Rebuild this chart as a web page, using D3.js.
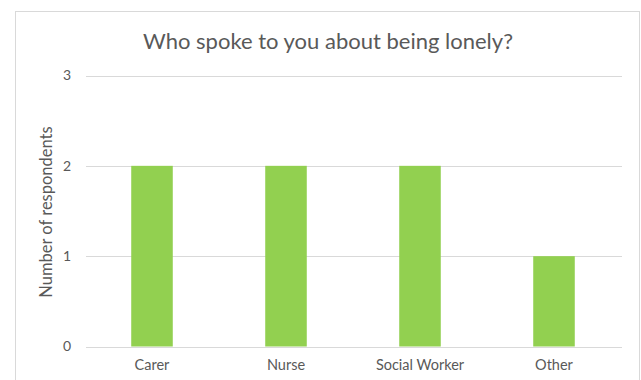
<!DOCTYPE html>
<html><head><meta charset="utf-8">
<script src="https://cdn.jsdelivr.net/npm/d3@7"></script>
<style>body{margin:0;background:#fff}svg{display:block}</style>
</head><body><svg id="c" width="641" height="380"></svg>
<script>
const categories = ["Carer", "Nurse", "Social Worker", "Other"];
const values = [2, 2, 2, 1];
const yTicks = [0, 1, 2, 3];
const titleText = "Who spoke to you about being lonely?";
const yTitle = "Number of respondents";

(function () {
const svg = d3.select("#c");
const font = "Lato, 'Open Sans', sans-serif";
const gray = "#595959";

svg.append("rect").attr("x", 15.5).attr("y", 11.5).attr("width", 624).attr("height", 380)
  .attr("fill", "#fff").attr("stroke", "#d9d9d9");

const mLeft = 86, mRight = 622, mTop = 75.5, mBottom = 346.5;
const x = d3.scaleBand().domain(categories).range([mLeft, mRight]).padding(0);
const y = d3.scaleLinear().domain([0, 3]).range([mBottom, mTop]);

svg.append("g").selectAll("line").data(yTicks).join("line")
  .attr("x1", mLeft).attr("x2", mRight)
  .attr("y1", d => Math.round(y(d)) + 0.5).attr("y2", d => Math.round(y(d)) + 0.5)
  .attr("stroke", "#d9d9d9").attr("stroke-width", 1);

const bw = x.bandwidth() * 0.31;
svg.append("g").selectAll("rect").data(values).join("rect")
  .attr("x", (d, i) => x(categories[i]) + x.bandwidth() / 2 - bw / 2 - 1)
  .attr("width", bw)
  .attr("y", d => y(d))
  .attr("height", d => y(0) - y(d))
  .attr("fill", "#92D050");

const yAxis = d3.axisLeft(y).tickValues(yTicks).tickFormat(d3.format("d")).tickSize(0).tickPadding(15);
const ga = svg.append("g").attr("transform", `translate(${mLeft},0)`).call(yAxis);
ga.select(".domain").remove();
ga.selectAll("text").attr("fill", gray).style("font-family", font).style("font-size", "14px");

const xAxis = d3.axisBottom(x).tickSize(0).tickPadding(13);
const gx = svg.append("g").attr("transform", `translate(-1,${mBottom})`).call(xAxis);
gx.select(".domain").remove();
gx.selectAll("text").attr("fill", gray).style("font-family", font).style("font-size", "14.5px");

svg.append("text").attr("x", 328).attr("y", 49).attr("text-anchor", "middle")
  .attr("fill", gray).style("font-family", font).style("font-size", "22px").text(titleText);

svg.append("text").attr("transform", "translate(52,212) rotate(-90)").attr("text-anchor", "middle")
  .attr("fill", gray).style("font-family", font).style("font-size", "16.5px").text(yTitle);
})();
</script></body></html>
